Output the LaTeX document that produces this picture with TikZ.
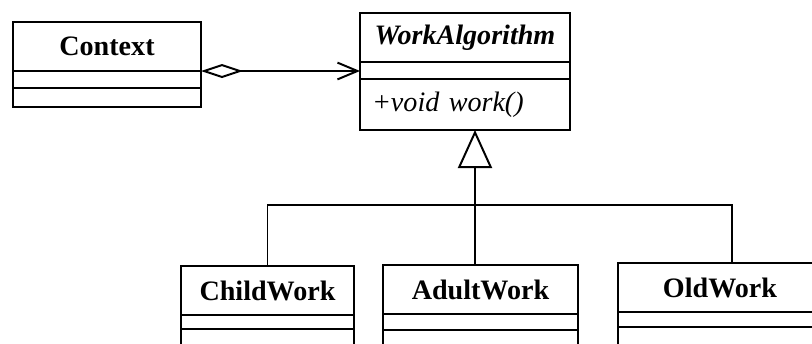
\documentclass[tikz,border=0pt]{standalone}
\usepackage{fontspec}
\setmainfont{Liberation Serif}
\usetikzlibrary{arrows.meta,positioning}

\begin{document}
\begin{tikzpicture}[
  umlhead/.style={draw, line width=0.7pt, inner sep=0pt, outer sep=0pt, minimum height=0.6125cm, font=\bfseries},
  umlpart/.style={draw, line width=0.7pt, inner sep=0pt, outer sep=0pt},
  link/.style={line width=0.7pt},
  aggr/.style={link, {Diamond[open, length=0.525cm, width=0.175cm]}-{Straight Barb[length=0.25cm, width=0.21cm]}},
  inherit/.style={line width=1pt, -{Triangle[open, length=0.475cm, width=0.425cm, line width=0.7pt]}}
]
\useasboundingbox (0,0) rectangle (10.15,4.2875);
\clip (0,0) rectangle (10.15,4.2875);
% Context class
\node[umlhead, minimum width=2.35cm, anchor=north west] (ctx) at (0.1625,4.0125) {Context};
\node[umlpart, minimum width=2.35cm, minimum height=0.2125cm, below=0pt of ctx] (ctxattr) {};
\node[umlpart, minimum width=2.35cm, minimum height=0.2375cm, below=0pt of ctxattr] (ctxops) {};
% abstract strategy
\node[umlhead, minimum width=2.625cm, anchor=north west, font=\bfseries\itshape] (wa) at (4.5,4.125) {WorkAlgorithm};
\node[umlpart, minimum width=2.625cm, minimum height=0.2125cm, below=0pt of wa] (waattr) {};
\node[umlpart, minimum height=0.6375cm, inner xsep=0.15cm, text width=2.325cm, align=left, font=\itshape, below=0pt of waattr] (waops) {+void work()};
% concrete strategies
\node[umlhead, minimum width=2.1625cm, anchor=north west] (child) at (2.2625,0.9625) {ChildWork};
\node[umlpart, minimum width=2.1625cm, minimum height=0.175cm, below=0pt of child] (childattr) {};
\node[umlpart, minimum width=2.1625cm, minimum height=0.5cm, below=0pt of childattr] (childops) {};
\node[umlhead, minimum width=2.4375cm, anchor=north west] (adult) at (4.7875,0.975) {AdultWork};
\node[umlpart, minimum width=2.4375cm, minimum height=0.2cm, below=0pt of adult] (adultattr) {};
\node[umlpart, minimum width=2.4375cm, minimum height=0.5cm, below=0pt of adultattr] (adultops) {};
\node[umlhead, minimum width=2.55cm, anchor=north west] (oldw) at (7.725,1.0) {OldWork};
\node[umlpart, minimum width=2.55cm, minimum height=0.1875cm, below=0pt of oldw] (oldwattr) {};
\node[umlpart, minimum width=2.55cm, minimum height=0.5cm, below=0pt of oldwattr] (oldwops) {};
% connectors
\coordinate (bus) at (5.9375,1.725);
\coordinate (oldtap) at (9.15,1.725);
\draw[aggr] (ctx.south east) -- (ctx.south east -| waattr.west);
\draw[link] (child.north) |- (oldtap) -- (oldtap |- oldw.north);
\draw[link] (bus) -- (bus |- adult.north);
\draw[inherit] (bus) -- (bus |- waops.south);
\end{tikzpicture}
\end{document}
